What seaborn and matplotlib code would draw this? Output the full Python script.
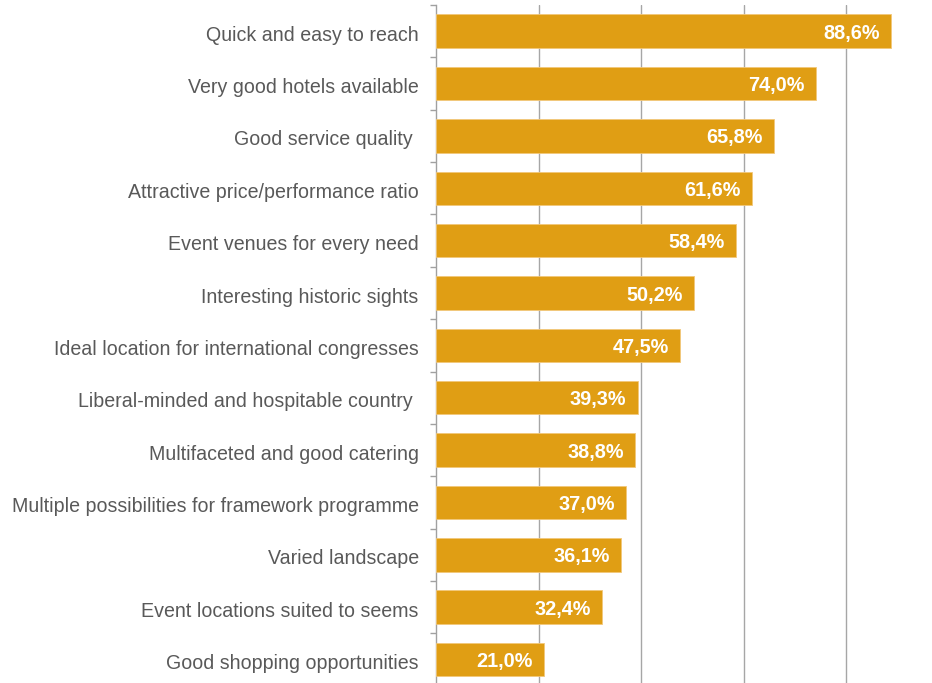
import matplotlib
matplotlib.use("Agg")
import matplotlib.pyplot as plt
import matplotlib.transforms as mtransforms
import seaborn as sns
import pandas as pd
import numpy as np

categories = [
    "Quick and easy to reach",
    "Very good hotels available",
    "Good service quality ",
    "Attractive price/performance ratio",
    "Event venues for every need",
    "Interesting historic sights",
    "Ideal location for international congresses",
    "Liberal-minded and hospitable country ",
    "Multifaceted and good catering",
    "Multiple possibilities for framework programme",
    "Varied landscape",
    "Event locations suited to seems",
    "Good shopping opportunities",
]
values = [88.6, 74.0, 65.8, 61.6, 58.4, 50.2, 47.5, 39.3, 38.8, 37.0, 36.1, 32.4, 21.0]

df = pd.DataFrame({"category": categories, "value": values})

sns.set_style("white")
plt.rcParams["font.family"] = ["Liberation Sans", "DejaVu Sans"]

W, H = 932, 683
fig = plt.figure(figsize=(W / 100, H / 100), dpi=100)
ax = fig.add_axes([436 / W, 1 - 685.7 / H, 513 / W, (685.7 - 5.0) / H])

bar_color = "#E09E14"
sns.barplot(data=df, x="value", y="category", orient="h", color=bar_color,
            width=0.64, saturation=1, edgecolor="#F2C77A", linewidth=0.6,
            ax=ax, zorder=3)

ax.set_xlim(0, 100)
ax.set_ylim(len(categories) - 0.5, -0.5)
ax.set_xticks([20, 40, 60, 80, 100])
ax.set_xticklabels([])
ax.tick_params(axis="x", length=0)
ax.grid(axis="x", color="#A6A6A6", linewidth=1.0, zorder=0)
ax.grid(axis="y", visible=False)
ax.set_axisbelow(True)

for side in ["top", "right", "bottom"]:
    ax.spines[side].set_visible(False)
ax.spines["left"].set_color("#A0A0A0")
ax.spines["left"].set_linewidth(1.0)

# category labels at band centres, small tick marks at the band boundaries
ax.set_yticks(np.arange(len(categories)))
ax.set_yticklabels(categories, fontsize=14.1, color="#595959")
ax.tick_params(axis="y", which="major", left=False, length=0, pad=12.5)
ax.set_yticks(np.arange(len(categories) + 1) - 0.5, minor=True)
ax.tick_params(axis="y", which="minor", left=True, length=4, width=1.0,
               color="#A0A0A0", direction="out")
ax.set_xlabel("")
ax.set_ylabel("")

shift = mtransforms.ScaledTranslation(0, -1.5 / 72, fig.dpi_scale_trans)
for lab in ax.get_yticklabels():
    lab.set_transform(lab.get_transform() + shift)

for i, v in enumerate(values):
    ax.annotate(f"{v:.1f}%".replace(".", ","), xy=(v, i), xytext=(-8, -1.5),
                textcoords="offset points", ha="right", va="center",
                color="white", fontsize=14.3, fontweight="bold", zorder=5)

fig.savefig("out.png", dpi=100)
